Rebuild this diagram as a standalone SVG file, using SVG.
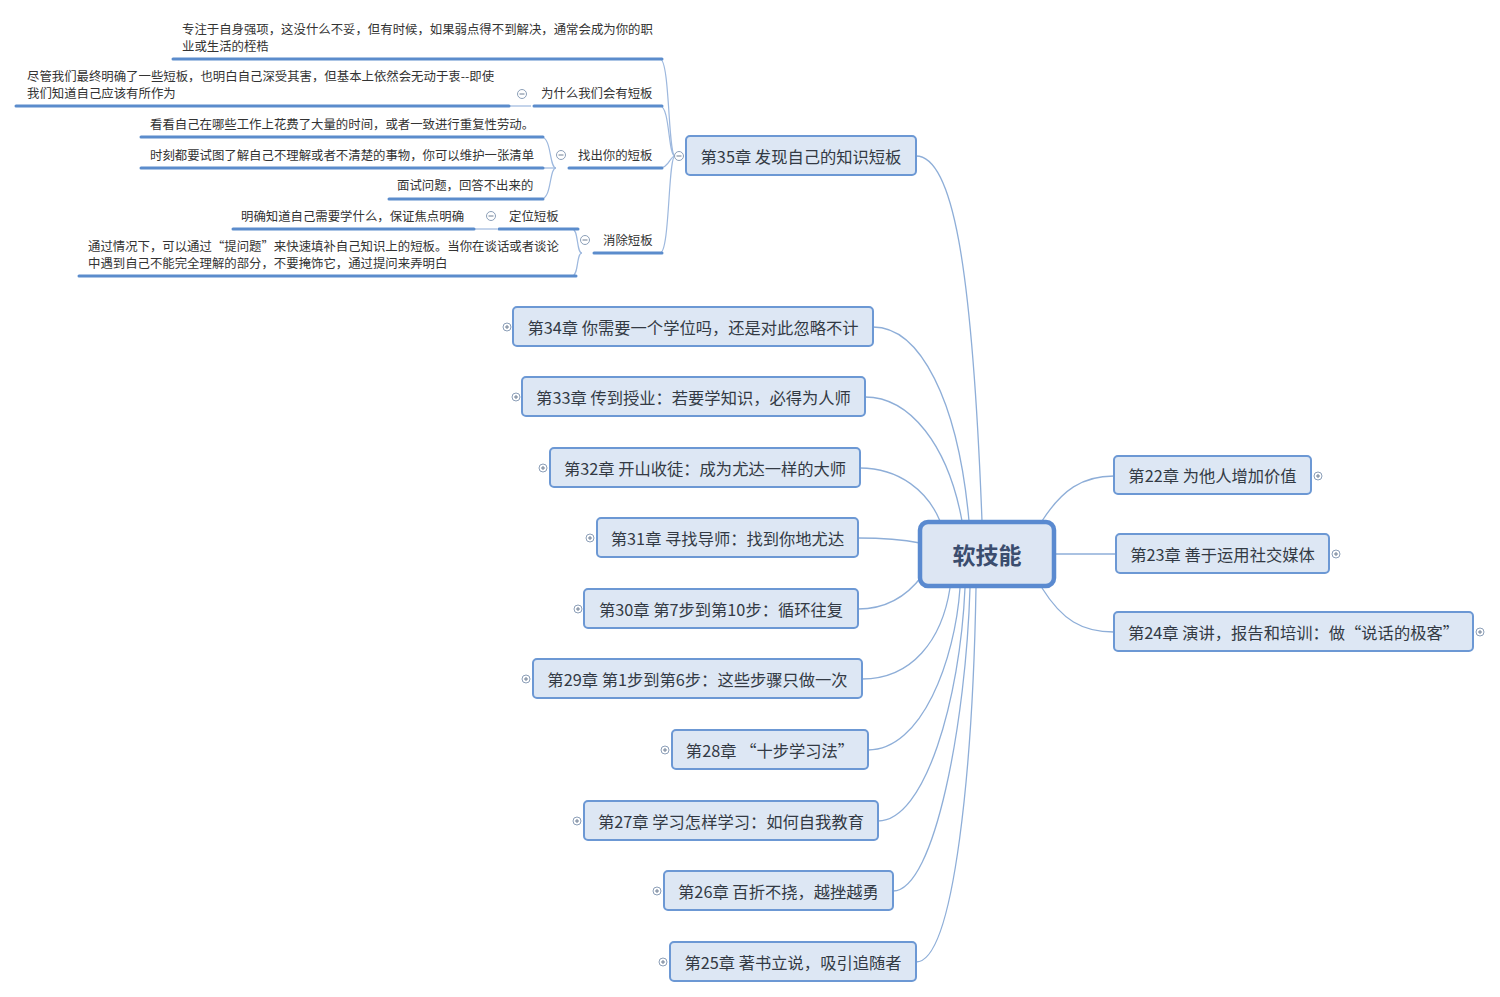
<svg xmlns="http://www.w3.org/2000/svg" width="1500" height="997" viewBox="0 0 1500 997">
<style>
.bg{fill:#ffffff}
.conn{fill:none;stroke:#8eaed8;stroke-width:1.3}
.sub{fill:none;stroke:#9db8de;stroke-width:1.2}
.ul{fill:none;stroke:#5b8ccc;stroke-width:3;stroke-linecap:round}
.node rect{fill:#dde7f4;stroke:#6c98d4;stroke-width:2}
.node text{font-family:"Noto Sans CJK SC","Noto Sans",sans-serif;font-size:16.3px;fill:#333a44;text-anchor:middle;dominant-baseline:central}
.root rect{fill:#dde6f3;stroke:#5a8ad0;stroke-width:4.5}
.root text{font-family:"Noto Sans CJK SC","Noto Sans",sans-serif;font-size:23px;font-weight:bold;fill:#3b4d6e;text-anchor:middle;dominant-baseline:central}
.lbl{font-family:"Noto Sans CJK SC","Noto Sans",sans-serif;font-size:12.4px;fill:#333333}
.tg circle{fill:#ffffff;stroke:#8c9fb8;stroke-width:1}
.tg line{stroke:#6f7f94;stroke-width:1}
</style>
<rect class="bg" x="0" y="0" width="1500" height="997"/>

<g id="connectors">
  <path class="conn" d="M916,156 C952,156 972,260 982,521"/>
  <path class="conn" d="M873,327 C920,327 958,400 969,521"/>
  <path class="conn" d="M865,397 C910,397 948,445 962,521"/>
  <path class="conn" d="M860,468 C900,468 928,492 940,521"/>
  <path class="conn" d="M858,538 C885,538 905,540 920,543"/>
  <path class="conn" d="M858,609 C890,609 910,592 922,576"/>
  <path class="conn" d="M862,679 C912,679 942,640 950,588"/>
  <path class="conn" d="M868,750 C922,750 955,660 960,588"/>
  <path class="conn" d="M878,821 C925,821 960,700 965,588"/>
  <path class="conn" d="M893,891 C935,891 966,720 970,588"/>
  <path class="conn" d="M916,962 C955,962 973,760 976,588"/>
  <path class="conn" d="M1042,521 C1062,490 1082,476 1114,476"/>
  <path class="conn" d="M1056,554 L1116,554"/>
  <path class="conn" d="M1042,588 C1062,620 1082,632 1114,632"/>
  <path class="sub" d="M675,156 C668,156 670,59 660,59"/>
  <path class="sub" d="M675,156 C668,156 670,106 660,106"/>
  <path class="sub" d="M675,156 C670,156 669,168 660,168"/>
  <path class="sub" d="M675,156 C668,156 670,253 660,253"/>
  <path class="sub" d="M531,106 L508,106"/>
  <path class="sub" d="M556,168 C549,168 552,137 541,137"/>
  <path class="sub" d="M556,168 L541,168"/>
  <path class="sub" d="M556,168 C549,168 552,199 541,199"/>
  <path class="sub" d="M582,253 C576,253 579,229 572,229"/>
  <path class="sub" d="M582,253 C576,253 579,276 572,276"/>
  <path class="sub" d="M497,229 L474,229"/>
</g>

<g id="sub-nodes">
  <g id="s-zhuanzhu">
    <text class="lbl" x="182" y="34">专注于自身强项，这没什么不妥，但有时候，如果弱点得不到解决，通常会成为你的职</text>
    <text class="lbl" x="182" y="51">业或生活的桎梏</text>
    <line class="ul" x1="173" y1="59" x2="662" y2="59"/>
  </g>
  <g id="s-weishenme">
    <text class="lbl" x="541" y="98">为什么我们会有短板</text>
    <line class="ul" x1="534" y1="106" x2="662" y2="106"/>
    <g class="tg"><circle cx="522" cy="94" r="4.5"/><line x1="519.5" y1="94" x2="524.5" y2="94"/></g>
  </g>
  <g id="s-jinguan">
    <text class="lbl" x="27" y="81">尽管我们最终明确了一些短板，也明白自己深受其害，但基本上依然会无动于衷--即使</text>
    <text class="lbl" x="27" y="98">我们知道自己应该有所作为</text>
    <line class="ul" x1="16" y1="106" x2="509" y2="106"/>
  </g>
  <g id="s-zhaochu">
    <text class="lbl" x="578" y="160">找出你的短板</text>
    <line class="ul" x1="569" y1="168" x2="662" y2="168"/>
    <g class="tg"><circle cx="561" cy="155" r="4.5"/><line x1="558.5" y1="155" x2="563.5" y2="155"/></g>
  </g>
  <g id="s-kankan">
    <text class="lbl" x="150" y="129">看看自己在哪些工作上花费了大量的时间，或者一致进行重复性劳动。</text>
    <line class="ul" x1="141" y1="137" x2="543" y2="137"/>
  </g>
  <g id="s-shike">
    <text class="lbl" x="150" y="160">时刻都要试图了解自己不理解或者不清楚的事物，你可以维护一张清单</text>
    <line class="ul" x1="141" y1="168" x2="543" y2="168"/>
  </g>
  <g id="s-mianshi">
    <text class="lbl" x="397" y="190">面试问题，回答不出来的</text>
    <line class="ul" x1="389" y1="199" x2="543" y2="199"/>
  </g>
  <g id="s-xiaochu">
    <text class="lbl" x="603" y="245">消除短板</text>
    <line class="ul" x1="594" y1="253" x2="662" y2="253"/>
    <g class="tg"><circle cx="585" cy="240" r="4.5"/><line x1="582.5" y1="240" x2="587.5" y2="240"/></g>
  </g>
  <g id="s-dingwei">
    <text class="lbl" x="509" y="221">定位短板</text>
    <line class="ul" x1="499" y1="229" x2="578" y2="229"/>
    <g class="tg"><circle cx="491" cy="216" r="4.5"/><line x1="488.5" y1="216" x2="493.5" y2="216"/></g>
  </g>
  <g id="s-mingque">
    <text class="lbl" x="241" y="221">明确知道自己需要学什么，保证焦点明确</text>
    <line class="ul" x1="233" y1="229" x2="474" y2="229"/>
  </g>
  <g id="s-tongguo">
    <text class="lbl" x="88" y="251">通过情况下，可以通过“提问题”来快速填补自己知识上的短板。当你在谈话或者谈论</text>
    <text class="lbl" x="88" y="268">中遇到自己不能完全理解的部分，不要掩饰它，通过提问来弄明白</text>
    <line class="ul" x1="79" y1="276" x2="576" y2="276"/>
  </g>
</g>

<g id="root" class="root">
  <rect x="920" y="522" width="134" height="64" rx="8"/>
  <text x="987" y="554">软技能</text>
</g>

<g id="ch35" class="node">
  <rect x="686" y="136" width="230" height="39" rx="4"/>
  <text x="801" y="155.5">第35章 发现自己的知识短板</text>
  <g class="tg"><circle cx="679" cy="156" r="4.5"/><line x1="676.5" y1="156" x2="681.5" y2="156"/></g>
</g>
<g id="ch34" class="node">
  <rect x="513" y="307" width="360" height="39" rx="4"/>
  <text x="693" y="326.5">第34章 你需要一个学位吗，还是对此忽略不计</text>
  <g class="tg"><circle cx="507" cy="327" r="4"/><line x1="505" y1="327" x2="509" y2="327"/><line x1="507" y1="325" x2="507" y2="329"/></g>
</g>
<g id="ch33" class="node">
  <rect x="522" y="377" width="343" height="39" rx="4"/>
  <text x="693.5" y="396.5">第33章 传到授业：若要学知识，必得为人师</text>
  <g class="tg"><circle cx="516" cy="397" r="4"/><line x1="514" y1="397" x2="518" y2="397"/><line x1="516" y1="395" x2="516" y2="399"/></g>
</g>
<g id="ch32" class="node">
  <rect x="550" y="448" width="310" height="39" rx="4"/>
  <text x="705" y="467.5">第32章 开山收徒：成为尤达一样的大师</text>
  <g class="tg"><circle cx="543" cy="468" r="4"/><line x1="541" y1="468" x2="545" y2="468"/><line x1="543" y1="466" x2="543" y2="470"/></g>
</g>
<g id="ch31" class="node">
  <rect x="597" y="518" width="261" height="39" rx="4"/>
  <text x="727.5" y="537.5">第31章 寻找导师：找到你地尤达</text>
  <g class="tg"><circle cx="590" cy="538" r="4"/><line x1="588" y1="538" x2="592" y2="538"/><line x1="590" y1="536" x2="590" y2="540"/></g>
</g>
<g id="ch30" class="node">
  <rect x="584" y="589" width="274" height="39" rx="4"/>
  <text x="721" y="608.5">第30章 第7步到第10步：循环往复</text>
  <g class="tg"><circle cx="578" cy="609" r="4"/><line x1="576" y1="609" x2="580" y2="609"/><line x1="578" y1="607" x2="578" y2="611"/></g>
</g>
<g id="ch29" class="node">
  <rect x="533" y="659" width="329" height="39" rx="4"/>
  <text x="697.5" y="678.5">第29章 第1步到第6步：这些步骤只做一次</text>
  <g class="tg"><circle cx="526" cy="679" r="4"/><line x1="524" y1="679" x2="528" y2="679"/><line x1="526" y1="677" x2="526" y2="681"/></g>
</g>
<g id="ch28" class="node">
  <rect x="672" y="730" width="196" height="39" rx="4"/>
  <text x="770" y="749.5">第28章 “十步学习法”</text>
  <g class="tg"><circle cx="665" cy="750" r="4"/><line x1="663" y1="750" x2="667" y2="750"/><line x1="665" y1="748" x2="665" y2="752"/></g>
</g>
<g id="ch27" class="node">
  <rect x="584" y="801" width="294" height="39" rx="4"/>
  <text x="731" y="820.5">第27章 学习怎样学习：如何自我教育</text>
  <g class="tg"><circle cx="577" cy="821" r="4"/><line x1="575" y1="821" x2="579" y2="821"/><line x1="577" y1="819" x2="577" y2="823"/></g>
</g>
<g id="ch26" class="node">
  <rect x="664" y="871" width="229" height="39" rx="4"/>
  <text x="778.5" y="890.5">第26章 百折不挠，越挫越勇</text>
  <g class="tg"><circle cx="657" cy="891" r="4"/><line x1="655" y1="891" x2="659" y2="891"/><line x1="657" y1="889" x2="657" y2="893"/></g>
</g>
<g id="ch25" class="node">
  <rect x="670" y="942" width="246" height="39" rx="4"/>
  <text x="793" y="961.5">第25章 著书立说，吸引追随者</text>
  <g class="tg"><circle cx="663" cy="962" r="4"/><line x1="661" y1="962" x2="665" y2="962"/><line x1="663" y1="960" x2="663" y2="964"/></g>
</g>
<g id="ch22" class="node">
  <rect x="1114" y="456" width="197" height="38" rx="4"/>
  <text x="1212.5" y="475">第22章 为他人增加价值</text>
  <g class="tg"><circle cx="1318" cy="476" r="4"/><line x1="1316" y1="476" x2="1320" y2="476"/><line x1="1318" y1="474" x2="1318" y2="478"/></g>
</g>
<g id="ch23" class="node">
  <rect x="1116" y="534" width="213" height="39" rx="4"/>
  <text x="1222.5" y="553.5">第23章 善于运用社交媒体</text>
  <g class="tg"><circle cx="1336" cy="554" r="4"/><line x1="1334" y1="554" x2="1338" y2="554"/><line x1="1336" y1="552" x2="1336" y2="556"/></g>
</g>
<g id="ch24" class="node">
  <rect x="1114" y="612" width="359" height="39" rx="4"/>
  <text x="1293.5" y="631.5">第24章 演讲，报告和培训：做“说话的极客”</text>
  <g class="tg"><circle cx="1480" cy="632" r="4"/><line x1="1478" y1="632" x2="1482" y2="632"/><line x1="1480" y1="630" x2="1480" y2="634"/></g>
</g>
</svg>
